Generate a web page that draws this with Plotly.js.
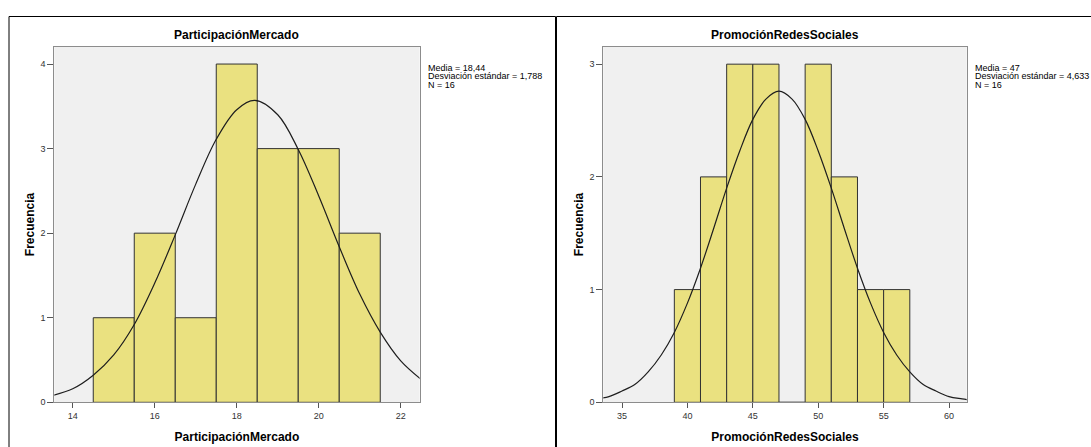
<!DOCTYPE html>
<html>
<head>
<meta charset="utf-8">
<script src="https://cdn.plot.ly/plotly-3.0.1.min.js"></script>
<style>html,body{margin:0;padding:0;background:#fff;}#chart{width:1091px;height:447px;}</style>
</head>
<body>
<div id="chart"></div>
<script>
// ---- Data ----
// Left histogram: ParticipaciónMercado (bin width 1)
const pmBinCenters = [15, 16, 17, 18, 19, 20, 21];
const pmCounts     = [1, 2, 1, 4, 3, 3, 2];
const pmCurveX = [13.5, 14, 14.5, 15, 15.5, 16, 16.5, 17, 17.5, 18, 18.44, 19, 19.5, 20, 20.5, 21, 21.5, 22, 22.5];
const pmCurveY = [0.08, 0.16, 0.32, 0.56, 0.92, 1.41, 1.98, 2.58, 3.11, 3.46, 3.57, 3.40, 2.99, 2.44, 1.84, 1.28, 0.83, 0.49, 0.27];
const pmStats = ["Media = 18,44", "Desviación estándar = 1,788", "N = 16"];
const pmTicks = [14, 16, 18, 20, 22];

// Right histogram: PromociónRedesSociales (bin width 2)
const prBinCenters = [40, 42, 44, 46, 48, 50, 52, 54, 56];
const prCounts     = [1, 2, 3, 3, 0, 3, 2, 1, 1];
const prCurveX = [33, 34, 35, 36, 37, 38, 39, 40, 41, 42, 43, 44, 45, 46, 47, 48, 49, 50, 51, 52, 53, 54, 55, 56, 57, 58, 59, 60, 61, 62];
const prCurveY = [0.03, 0.05, 0.10, 0.16, 0.27, 0.42, 0.62, 0.88, 1.19, 1.54, 1.90, 2.23, 2.51, 2.69, 2.76, 2.69, 2.51, 2.23, 1.90, 1.54, 1.19, 0.88, 0.62, 0.42, 0.27, 0.16, 0.10, 0.05, 0.03, 0.015];
const prStats = ["Media = 47", "Desviación estándar = 4,633", "N = 16"];
const prTicks = [35, 40, 45, 50, 55, 60];

const titles = ["ParticipaciónMercado", "PromociónRedesSociales"];
const yTitle = "Frecuencia";

// ---- Styling ----
const W = 1091, H = 447;
const px = v => v / W;
const py = v => 1 - v / H;
const FONT = "Liberation Sans, Arial, sans-serif";
const barFill = "rgb(234,225,128)";
const barLine = "rgb(50,50,50)";
const bg = "rgb(240,240,240)";
const boxColor = "rgb(140,140,140)";

const traces = [
  {type: "bar", x: pmBinCenters, y: pmCounts, width: 1, xaxis: "x", yaxis: "y",
   marker: {color: barFill, line: {color: barLine, width: 1}}, hoverinfo: "x+y"},
  {type: "scatter", mode: "lines", x: pmCurveX, y: pmCurveY, xaxis: "x", yaxis: "y",
   line: {color: "rgb(30,30,30)", width: 1.2, shape: "spline"}},
  {type: "bar", x: prBinCenters, y: prCounts, width: 2, xaxis: "x2", yaxis: "y2",
   marker: {color: barFill, line: {color: barLine, width: 1}}, hoverinfo: "x+y"},
  {type: "scatter", mode: "lines", x: prCurveX, y: prCurveY, xaxis: "x2", yaxis: "y2",
   line: {color: "rgb(30,30,30)", width: 1.2, shape: "spline"}}
];

const tickFont = {family: FONT, size: 9, color: "#333"};
const axTitleFont = {family: FONT, size: 12, color: "#000", weight: "bold"};

function xAx(domain, range, ticks, title, anchor) {
  return {domain, range, tickvals: ticks, ticktext: ticks.map(String), tickmode: "array",
    ticks: "outside", ticklen: 5, tickcolor: "#555", tickwidth: 1,
    showline: true, linecolor: boxColor, linewidth: 1, mirror: true,
    showgrid: false, zeroline: false, tickfont: tickFont, anchor,
    title: {text: title, font: axTitleFont, standoff: 12}, fixedrange: true};
}
function yAx(domain, range, ticks, anchor) {
  return {domain, range, tickvals: ticks, tickmode: "array",
    ticks: "outside", ticklen: 6, tickcolor: "#555", tickwidth: 1,
    showline: true, linecolor: boxColor, linewidth: 1, mirror: true,
    showgrid: false, zeroline: false, tickfont: tickFont, anchor,
    title: {text: yTitle, font: axTitleFont, standoff: 3}, fixedrange: true};
}

const ydom = [py(402.3), py(46.7)];
const layout = {
  width: W, height: H,
  margin: {l: 0, r: 0, t: 0, b: 0},
  paper_bgcolor: "#fff",
  plot_bgcolor: bg,
  showlegend: false,
  bargap: 0,
  font: {family: FONT},
  xaxis: xAx([px(54.3), px(419.6)], [13.55, 22.46], pmTicks, titles[0], "y"),
  yaxis: yAx(ydom, [0, 4.205], [0, 1, 2, 3, 4], "x"),
  xaxis2: xAx([px(603.3), px(966.7)], [33.57, 61.35], prTicks, titles[1], "y2"),
  yaxis2: yAx(ydom, [0, 3.155], [0, 1, 2, 3], "x2"),
  shapes: [
    {type: "rect", xref: "paper", yref: "paper", x0: px(9), x1: px(555.5), y0: -0.05, y1: py(16.5),
     line: {color: "#000", width: 1}},
    {type: "rect", xref: "paper", yref: "paper", x0: px(556.5), x1: 1.05, y0: -0.05, y1: py(16.5),
     line: {color: "#000", width: 1}}
  ],
  annotations: []
};

// Chart titles
[[titles[0], (54.3 + 419.6) / 2], [titles[1], (603.3 + 966.7) / 2]].forEach(([t, cx]) => {
  layout.annotations.push({text: t, xref: "paper", yref: "paper", x: px(cx), y: py(35),
    xanchor: "center", yanchor: "middle", showarrow: false,
    font: {family: FONT, size: 12, color: "#000", weight: "bold"}});
});
// Stats boxes
[[pmStats, 426], [prStats, 973]].forEach(([lines, x0]) => {
  lines.forEach((s, i) => {
    layout.annotations.push({text: s, xref: "paper", yref: "paper", x: px(x0), y: py(67.5 + i * 8.6),
      xanchor: "left", yanchor: "middle", showarrow: false,
      font: {family: FONT, size: 9, color: "#000"}});
  });
});

Plotly.newPlot("chart", traces, layout, {displayModeBar: false, staticPlot: true});
</script>
</body>
</html>
